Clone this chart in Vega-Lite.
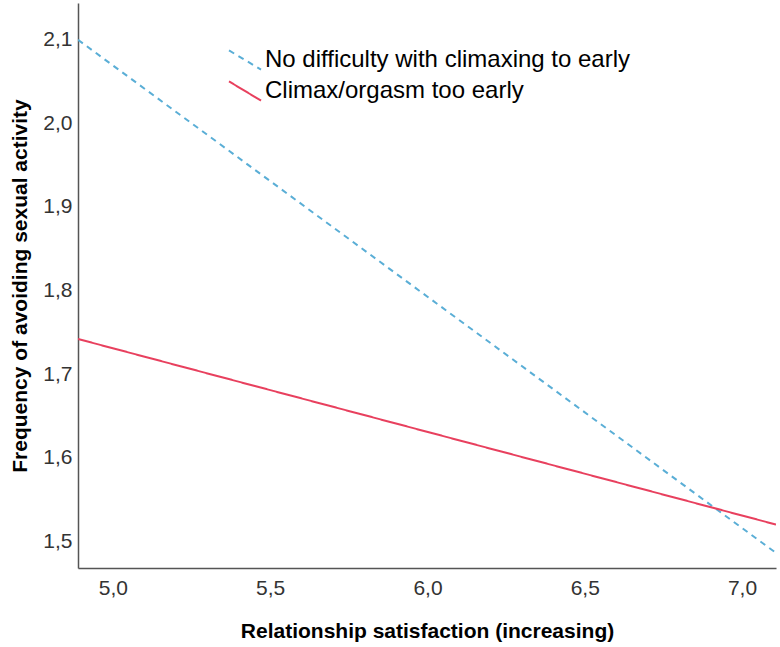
{
  "$schema": "https://vega.github.io/schema/vega-lite/v6.json",
  "width": 698,
  "height": 565,
  "autosize": "none",
  "padding": {"left": 78, "top": 3, "right": 4, "bottom": 79},
  "background": "white",
  "config": {
    "view": {"stroke": null},
    "font": "Liberation Sans"
  },
  "data": {
    "values": [
      {"sat": 4.889, "freq": 2.100, "group": "No difficulty with climaxing to early"},
      {"sat": 7.108, "freq": 1.486, "group": "No difficulty with climaxing to early"},
      {"sat": 4.889, "freq": 1.742, "group": "Climax/orgasm too early"},
      {"sat": 7.108, "freq": 1.520, "group": "Climax/orgasm too early"}
    ]
  },
  "mark": {"type": "line", "strokeWidth": 2, "clip": true},
  "encoding": {
    "x": {
      "field": "sat",
      "type": "quantitative",
      "scale": {"domain": [4.889, 7.108], "nice": false, "zero": false},
      "axis": {
        "title": "Relationship satisfaction (increasing)",
        "values": [5, 5.5, 6, 6.5, 7],
        "labelExpr": "replace(format(datum.value, '.1f'), '.', ',')",
        "grid": false,
        "ticks": false,
        "domainColor": "#555555",
        "domainWidth": 1.5,
        "labelFontSize": 21,
        "labelColor": "#333333",
        "labelPadding": 9,
        "titleFontSize": 21,
        "titleFontWeight": "bold",
        "titleColor": "#000000",
        "titlePadding": 22
      }
    },
    "y": {
      "field": "freq",
      "type": "quantitative",
      "scale": {"domain": [1.468, 2.144], "nice": false, "zero": false},
      "axis": {
        "title": "Frequency of avoiding sexual activity",
        "values": [1.5, 1.6, 1.7, 1.8, 1.9, 2.0, 2.1],
        "labelExpr": "replace(format(datum.value, '.1f'), '.', ',')",
        "grid": false,
        "ticks": false,
        "domainColor": "#555555",
        "domainWidth": 1.5,
        "labelFontSize": 21,
        "labelColor": "#333333",
        "labelPadding": 6,
        "titleFontSize": 21,
        "titleFontWeight": "bold",
        "titleColor": "#000000",
        "titlePadding": 12
      }
    },
    "color": {
      "field": "group",
      "type": "nominal",
      "scale": {
        "domain": ["No difficulty with climaxing to early", "Climax/orgasm too early"],
        "range": ["#5aaed6", "#e8405e"]
      },
      "legend": {
        "title": null,
        "orient": "none",
        "legendX": 150,
        "legendY": 40,
        "symbolType": "M-1,-0.6L1,0.6",
        "symbolSize": 1024,
        "symbolStrokeWidth": 2,
        "labelFontSize": 24,
        "labelColor": "#000000",
        "labelOffset": 3,
        "rowPadding": 0,
        "labelLimit": 500
      }
    },
    "strokeDash": {
      "field": "group",
      "type": "nominal",
      "scale": {
        "domain": ["No difficulty with climaxing to early", "Climax/orgasm too early"],
        "range": [[6, 5], [1, 0]]
      },
      "legend": null
    }
  }
}
